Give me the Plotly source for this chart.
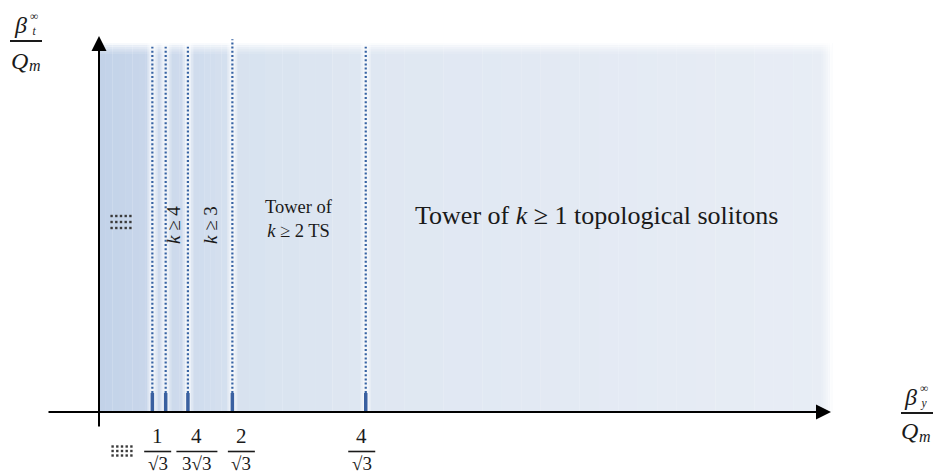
import math
import plotly.graph_objects as go

# ---------------- data ----------------
k_values = [1, 2, 3, 4, 5]                                # tower thresholds 4/(k*sqrt3)
thresholds = [4 / (k * math.sqrt(3)) for k in k_values]   # 2.309, 1.155, 0.770, 0.577, 0.462
tick_k = [4, 3, 2, 1]                                      # labelled thresholds
tick_num = ["1", "4", "2", "4"]
tick_den = ["√3", "3√3", "√3", "√3"]
tick_den_width = [27, 41, 27, 27]                          # fraction bar widths (px)
tick_label_shift = [-8, 9, 9, -4]                          # px offsets of label centres
region_labels = ["Tower of <i>k</i> ≥ 1 topological solitons",
                 "Tower of<br><i>k</i> ≥ 2 TS", "<i>k</i> ≥ 3", "<i>k</i> ≥ 4"]
# region colours: (left, right) gradient, from axis outward
region_colors = [("#c2d2e8", "#c9d7eb"), ("#cddaed", "#d0dcee"), ("#ccd9ec", "#cfdbed"),
                 ("#cedbed", "#d6e1ef"), ("#d7e2ef", "#dfe7f2"), ("#dfe7f2", "#e8edf5")]
x_shade_end = 6.346

# ---------------- pixel <-> data helpers ----------------
W, H = 933, 475
X0PX, SX = 99.0, 115.5
Y0PX, SY = 412.0, 369.0
def xd(px): return (px - X0PX) / SX
def yd(py): return (Y0PX - py) / SY

def hex2rgb(h):
    h = h.lstrip("#")
    return tuple(int(h[i:i + 2], 16) for i in (0, 2, 4))
def mix(c1, c2, t):
    a, b = hex2rgb(c1), hex2rgb(c2)
    return "rgb(%d,%d,%d)" % tuple(round(a[i] + (b[i] - a[i]) * t) for i in range(3))

fig = go.Figure()
shapes = []
annotations = []

# ---------------- shaded regions with horizontal gradients ----------------
edges = [0.0] + sorted(thresholds) + [x_shade_end]
for i in range(len(edges) - 1):
    a, b = edges[i], edges[i + 1]
    cl, cr = region_colors[i]
    n = 24 if i == len(edges) - 2 else 8
    for j in range(n):
        x0 = a + (b - a) * j / n
        x1 = a + (b - a) * (j + 1) / n
        shapes.append(dict(type="rect", xref="x", yref="y", x0=x0, x1=x1 + 0.002,
                           y0=0, y1=1, fillcolor=mix(cl, cr, (j + 0.5) / n),
                           line=dict(width=0), layer="below"))

# top fade
fade = [0.85, 0.65, 0.45, 0.28, 0.12]
for j, op in enumerate(fade):
    shapes.append(dict(type="rect", xref="x", yref="y", x0=0, x1=x_shade_end,
                       y0=1 - (j + 1) * 2.2 / SY, y1=1 - j * 2.2 / SY,
                       fillcolor="white", opacity=op, line=dict(width=0), layer="below"))
# right fade
for j, op in enumerate(fade):
    shapes.append(dict(type="rect", xref="x", yref="y",
                       x0=x_shade_end - (j + 1) * 2.2 / SX, x1=x_shade_end - j * 2.2 / SX,
                       y0=0, y1=1, fillcolor="white", opacity=op, line=dict(width=0), layer="below"))

# white glow beside each dotted line
for t in thresholds:
    for w, op in [(5, 0.35), (3, 0.45)]:
        shapes.append(dict(type="rect", xref="x", yref="y", xsizemode="pixel", xanchor=t,
                           x0=-w, x1=w, y0=0, y1=1, fillcolor="white", opacity=op,
                           line=dict(width=0), layer="below"))

# dotted boundary lines and bottom bars
bar_top = yd(393)
for t in thresholds:
    top = 1.01 if abs(t - thresholds[1]) < 1e-9 else 0.99
    shapes.append(dict(type="line", xref="x", yref="y", x0=t, x1=t, y0=bar_top, y1=top,
                       line=dict(color="#3763a3", width=2.2, dash="2px,2.2px")))
    shapes.append(dict(type="line", xref="x", yref="y", x0=t, x1=t, y0=0, y1=bar_top,
                       line=dict(color="#3a60a0", width=3.5)))

# ---------------- axes with arrows ----------------
annotations.append(dict(x=xd(831), y=0, ax=xd(47), ay=0, xref="x", yref="y", axref="x", ayref="y",
                        text="", showarrow=True, arrowhead=2, arrowsize=1.5, arrowwidth=2,
                        arrowcolor="black"))
annotations.append(dict(x=0, y=yd(36), ax=0, ay=yd(428), xref="x", yref="y", axref="x", ayref="y",
                        text="", showarrow=True, arrowhead=2, arrowsize=1.5, arrowwidth=2,
                        arrowcolor="black"))

SERIF = "Liberation Serif"
TXT = "#1a1a1a"

# ---------------- tick fraction labels ----------------
for kk, num, den, bw, sh in zip(tick_k, tick_num, tick_den, tick_den_width, tick_label_shift):
    t = 4 / (kk * math.sqrt(3))
    annotations.append(dict(x=t, y=yd(436), xref="x", yref="y", xshift=sh, text=num,
                            showarrow=False, font=dict(family=SERIF, size=21, color=TXT)))
    annotations.append(dict(x=t, y=yd(463.5), xref="x", yref="y", xshift=sh, text=den,
                            showarrow=False, font=dict(family=SERIF, size=19, color=TXT)))
    shapes.append(dict(type="line", xref="x", yref="y", xsizemode="pixel", xanchor=t,
                       x0=sh - bw / 2, x1=sh + bw / 2, y0=yd(451.5), y1=yd(451.5),
                       line=dict(color=TXT, width=1.6)))

# ---------------- region labels ----------------
annotations.append(dict(x=xd(413), y=yd(215), xref="x", yref="y", xanchor="left",
                        text=region_labels[0], showarrow=False,
                        font=dict(family=SERIF, size=26, color=TXT)))
annotations.append(dict(x=xd(299), y=yd(219), xref="x", yref="y", text=region_labels[1],
                        showarrow=False, font=dict(family=SERIF, size=18.5, color=TXT)))
annotations.append(dict(x=xd(210), y=yd(225), xref="x", yref="y", text=region_labels[2],
                        textangle=-90, showarrow=False, font=dict(family=SERIF, size=19, color=TXT)))
annotations.append(dict(x=xd(173), y=yd(225), xref="x", yref="y", text=region_labels[3],
                        textangle=-90, showarrow=False, font=dict(family=SERIF, size=19, color=TXT)))

# ---------------- dot-grid ellipsis ornaments ----------------
dx, dy = [], []
for cx, cy, sx, sy in [(121, 222, 4.7, 6.0), (122, 451, 4.7, 4.5)]:
    for r in (-1, 0, 1):
        for c in (-2, -1, 0, 1, 2):
            dx.append(xd(cx + c * sx))
            dy.append(yd(cy + r * sy))
fig.add_trace(go.Scatter(x=dx, y=dy, mode="markers", hoverinfo="skip",
                         marker=dict(symbol="square", size=2.4, color="#3a3a3a", line=dict(width=0))))

# ---------------- axis titles (paper coords) ----------------
def px_paper(px, py): return px / W, 1 - py / H
def label(px, py, text, size):
    x, y = px_paper(px, py)
    annotations.append(dict(x=x, y=y, xref="paper", yref="paper", text=text,
                            xanchor="center", yanchor="middle", borderpad=0,
                            showarrow=False, font=dict(family=SERIF, size=size, color=TXT)))

# y title  β_t^∞ / Q_m
label(20, 25, "<i>β</i>", 24)
label(34, 23.5, "∞<br><i>t</i>", 11.5)
label(19, 61, "<i>Q</i>", 24)
label(35, 66, "<i>m</i>", 16)
shapes.append(dict(type="line", xref="paper", yref="paper", x0=10 / W, x1=42 / W,
                   y0=1 - 41 / H, y1=1 - 41 / H, line=dict(color=TXT, width=2)))
# x title  β_y^∞ / Q_m
label(910, 397, "<i>β</i>", 24)
label(924, 396, "∞<br><i>y</i>", 11.5)
label(909, 431, "<i>Q</i>", 24)
label(925, 436, "<i>m</i>", 16)
shapes.append(dict(type="line", xref="paper", yref="paper", x0=901 / W, x1=933 / W,
                   y0=1 - 413 / H, y1=1 - 413 / H, line=dict(color=TXT, width=2)))

fig.update_layout(
    width=W, height=H, margin=dict(l=0, r=0, t=0, b=0),
    paper_bgcolor="white", plot_bgcolor="white", showlegend=False,
    shapes=shapes, annotations=annotations,
    xaxis=dict(range=[xd(0), xd(W)], visible=False, fixedrange=True),
    yaxis=dict(range=[yd(H), yd(0)], visible=False, fixedrange=True),
)
fig.write_html("out.html", config={"displayModeBar": False},
               post_script="document.body.style.margin='0';document.body.style.overflow='hidden';")
